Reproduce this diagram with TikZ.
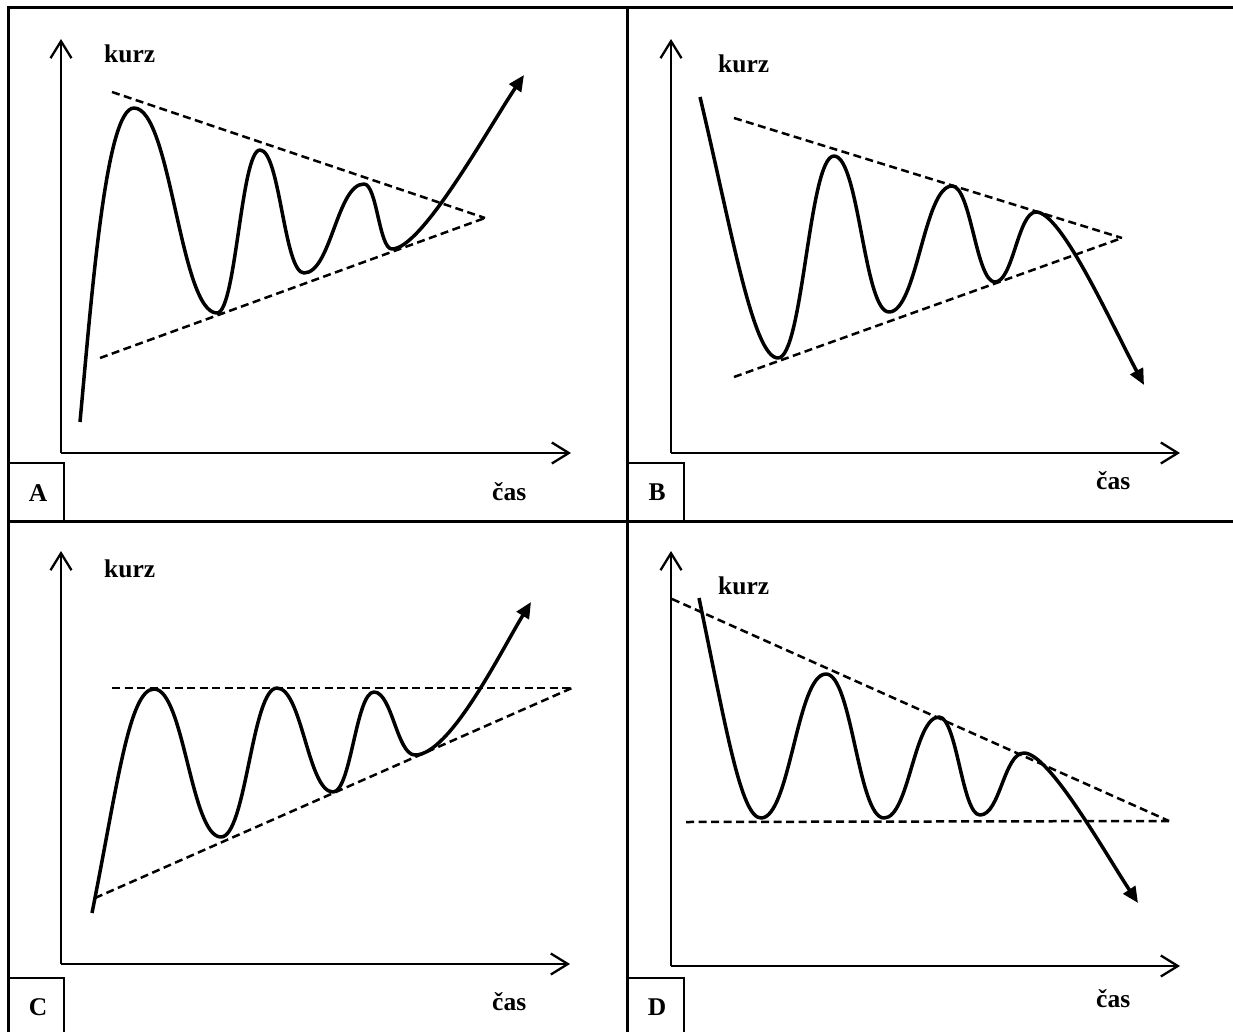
\documentclass[tikz,border=0pt]{standalone}
\usepackage{fontspec}
\setmainfont{Liberation Serif}
\usetikzlibrary{arrows.meta}
\tikzset{
  frameline/.style={line width=3pt, line cap=rect},
  boxline/.style={line width=2.5pt},
  axisline/.style={line width=2.3pt, -{Straight Barb[length=17pt,width=21pt,line width=2.3pt]}},
  trendline/.style={line width=2.5pt, dash pattern=on 8pt off 4.5pt},
  priceline/.style={line width=3.5pt, line join=round, -{Triangle[length=16pt,width=14pt]}},
  lbl/.style={font=\fontsize{25.5}{30}\selectfont\bfseries, inner sep=0pt},
}
\begin{document}
\begin{tikzpicture}[x=1pt,y=-1pt]
\useasboundingbox (0,0) rectangle (1233,1032);
\fill[white] (0,0) rectangle (1233,1032);
% frame
\coordinate (TL) at (8,8);
\coordinate (TR) at (1240,8);
\coordinate (BL) at (8,1040);
\coordinate (MT) at (627,8);
\coordinate (MB) at (627,1040);
\coordinate (ML) at (8,521);
\coordinate (MR) at (1240,521);
\draw[frameline] (BL) -- (TL) -- (TR);
\draw[frameline] (MT) -- (MB);
\draw[frameline] (ML) -- (MR);
% letter boxes
\draw[boxline] (8,463) -- (64,463) -- (64,521);
\draw[boxline] (627,463) -- (684,463) -- (684,521);
\draw[boxline] (8,978) -- (64,978) -- (64,1040);
\draw[boxline] (627,978) -- (684,978) -- (684,1040);
\node[lbl, anchor=base] (la) at (38,501) {A};
\node[lbl, anchor=base] (lb) at (657,500) {B};
\node[lbl, anchor=base] (lc) at (38,1015) {C};
\node[lbl, anchor=base] (ld) at (657,1015) {D};

% ================= Panel A
\coordinate (Ao) at (61,453);
\coordinate (Ay) at (61,39);
\coordinate (Ax) at (571,453);
\draw[axisline] (Ao) -- (Ay);
\draw[axisline] (Ao) -- (Ax);
\node[lbl, anchor=base west] (Ak) at (104,63) {kurz};
\node[lbl, anchor=base west] (Ac) at (492,500) {čas};
\coordinate (Aapex) at (485,218);
\coordinate (Aup) at (112,92);
\coordinate (Alo) at (100,358);
\draw[trendline] (Aup) -- (Aapex);
\draw[trendline] (Alo) -- (Aapex);
\coordinate (As) at (80,422);
\coordinate (At) at (524,75);
\draw[priceline] (As) .. controls (92,292) and (106,108) .. (134,108)
  .. controls +(37,0) and +(-37,0) .. (217,313)
  .. controls +(19,0) and +(-19,0) .. (260,150)
  .. controls +(20,0) and +(-20,0) .. (304,273)
  .. controls +(27,0) and +(-27,0) .. (364,184)
  .. controls +(13,0) and +(-13,0) .. (392,249)
  .. controls +(30,0) and (489,127) .. (At);

% ================= Panel B
\coordinate (Bo) at (671,453);
\coordinate (By) at (671,39);
\coordinate (Bx) at (1180,453);
\draw[axisline] (Bo) -- (By);
\draw[axisline] (Bo) -- (Bx);
\node[lbl, anchor=base west] (Bk) at (718,73) {kurz};
\node[lbl, anchor=base west] (Bc) at (1096,489) {čas};
\coordinate (Bapex) at (1122,238);
\coordinate (Bup) at (734,118);
\coordinate (Blo) at (734,377);
\draw[trendline] (Bup) -- (Bapex);
\draw[trendline] (Blo) -- (Bapex);
\coordinate (Bs) at (700,97);
\coordinate (Bt) at (1144,385);
\draw[priceline] (Bs) .. controls (731,227) and (753,358) .. (778,358)
  .. controls +(25,0) and +(-25,0) .. (834,156)
  .. controls +(25,0) and +(-25,0) .. (889,312)
  .. controls +(28,0) and +(-28,0) .. (952,186)
  .. controls +(19,0) and +(-19,0) .. (995,282)
  .. controls +(18,0) and +(-18,0) .. (1036,212)
  .. controls +(25,0) and (1109,319) .. (Bt);

% ================= Panel C
\coordinate (Co) at (61,964);
\coordinate (Cy) at (61,551);
\coordinate (Cx) at (570,964);
\draw[axisline] (Co) -- (Cy);
\draw[axisline] (Co) -- (Cx);
\node[lbl, anchor=base west] (Ck) at (104,577) {kurz};
\node[lbl, anchor=base west] (Cc) at (492,1010) {čas};
\coordinate (Capex) at (572,688);
\coordinate (Cup) at (112,688);
\coordinate (Clo) at (95,898);
\draw[trendline] (Cup) -- (Capex);
\draw[trendline] (Clo) -- (Capex);
\coordinate (Cs) at (92,913);
\coordinate (Ct) at (531,602);
\draw[priceline] (Cs) .. controls (117,788) and (129,689) .. (154,689)
  .. controls +(30,0) and +(-30,0) .. (221,837)
  .. controls +(25,0) and +(-25,0) .. (277,688)
  .. controls +(25,0) and +(-25,0) .. (333,792)
  .. controls +(18,0) and +(-18,0) .. (374,692)
  .. controls +(18,0) and +(-18,0) .. (415,755)
  .. controls +(35,0) and (501,651) .. (Ct);

% ================= Panel D
\coordinate (Do) at (671,966);
\coordinate (Dy) at (671,551);
\coordinate (Dx) at (1180,966);
\draw[axisline] (Do) -- (Dy);
\draw[axisline] (Do) -- (Dx);
\node[lbl, anchor=base west] (Dk) at (718,594) {kurz};
\node[lbl, anchor=base west] (Dc) at (1096,1007) {čas};
\coordinate (Dapex) at (1169,821);
\coordinate (Dup) at (672,599);
\coordinate (Dlo) at (686,822);
\draw[trendline] (Dup) -- (Dapex);
\draw[trendline] (Dlo) -- (Dapex);
\coordinate (Ds) at (699,598);
\coordinate (Dt) at (1138,903);
\draw[priceline] (Ds) .. controls (726,728) and (741,818) .. (761,818)
  .. controls +(29,0) and +(-29,0) .. (826,674)
  .. controls +(26,0) and +(-26,0) .. (884,818)
  .. controls +(25,0) and +(-25,0) .. (939,717)
  .. controls +(18,0) and +(-18,0) .. (980,815)
  .. controls +(20,0) and +(-20,0) .. (1024,753)
  .. controls +(25,0) and (1105,853) .. (Dt);
\end{tikzpicture}
\end{document}
